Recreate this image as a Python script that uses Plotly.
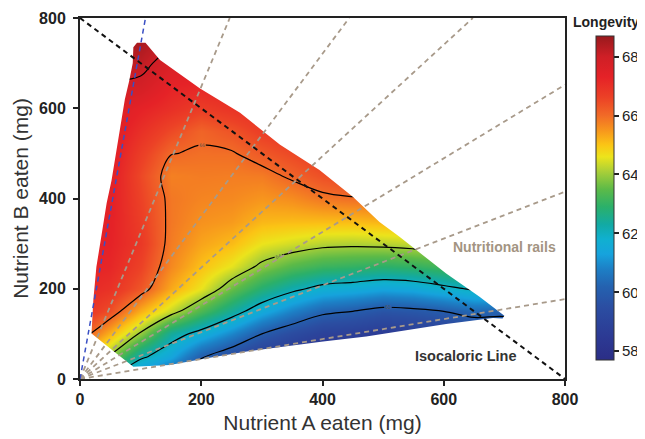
import plotly.graph_objects as go

N = None
# Grid of sampled intakes (mg)
nutrient_a = [0, 50, 100, 150, 200, 250, 300, 350, 400, 450, 500, 550, 600, 650, 700, 750]
nutrient_b = [0, 50, 100, 150, 200, 250, 300, 350, 400, 450, 500, 550, 600, 650, 700, 750]

# Longevity (rows = nutrient B, columns = nutrient A)
longevity = [
    [N, 61.9, 60.6, 59.9, 59.0, 58.6, N, N, N, N, N, N, N, N, N, N],
    [65.0, 63.9, 62.2, 61.4, 60.1, 59.4, 58.7, 58.3, 58.0, 57.9, 57.9, N, N, N, N, N],
    [66.4, 65.2, 63.9, 62.4, 61.7, 60.9, 60.0, 59.4, 58.9, 58.8, 58.6, 58.7, 58.9, 59.2, 59.5, 59.8],
    [67.0, 66.4, 65.2, 64.3, 63.3, 62.4, 61.5, 60.8, 60.2, 60.0, 59.7, 59.8, 60.0, 60.3, 60.15, 60.3],
    [67.2, 66.95, 66.3, 65.3, 64.6, 63.6, 62.8, 62.2, 61.75, 61.6, 61.4, 61.5, 61.8, 62.1, 62.3, N],
    [67.3, 67.2, 66.6, 65.65, 65.05, 64.55, 63.85, 63.4, 63.1, 63.0, 62.9, 63.0, 63.2, 63.4, N, N],
    [67.4, 67.3, 66.8, 65.8, 65.35, 65.1, 64.6, 64.4, 64.2, 64.15, 64.2, 64.3, 64.4, N, N, N],
    [67.5, 67.35, 66.7, 65.85, 65.55, 65.45, 65.15, 65.1, 65.1, 65.1, 65.2, 65.2, N, N, N, N],
    [67.5, 67.4, 66.6, 65.85, 65.7, 65.65, 65.5, 65.6, 65.85, 65.95, 66.0, N, N, N, N, N],
    [67.6, 67.45, 66.5, 65.75, 65.8, 65.78, 65.8, 66.1, 66.4, 66.6, 66.8, N, N, N, N, N],
    [N, 67.5, 66.7, 66.02, 65.94, 65.95, 66.25, 66.5, 66.8, N, N, N, N, N, N, N],
    [N, 67.6, 67.0, 66.5, 66.1, 66.35, 66.7, 66.9, N, N, N, N, N, N, N, N],
    [N, 67.7, 67.3, 67.0, 66.7, 66.9, 67.1, N, N, N, N, N, N, N, N, N],
    [N, 67.95, 67.85, 67.3, 67.2, 67.3, N, N, N, N, N, N, N, N, N, N],
    [N, 68.2, 68.2, 67.7, 67.6, N, N, N, N, N, N, N, N, N, N, N],
    [N, 68.5, 68.5, 68.1, N, N, N, N, N, N, N, N, N, N, N, N],
]

# Outline of the sampled diet region (clockwise)
region_a = [88, 55, 19, 22, 27, 36, 44, 52, 58, 66, 74, 81, 87, 88, 94, 108, 132, 198, 264,
            330, 395, 450, 494, 527, 604, 659, 700, 697, 681, 604, 527, 472, 401, 340, 275,
            209, 148, 88]
region_b = [27, 62, 101, 175, 248, 323, 390, 440, 490, 560, 620, 660, 700, 735, 745, 745, 707,
            644, 590, 519, 463, 404, 348, 315, 234, 182, 140, 134, 135, 122, 105, 94, 83, 72,
            61, 46, 31, 27]

# Nutritional rails (end points of rays from the origin)
rail_end_a = [247, 444, 648, 800, 800, 800]
rail_end_b = [800, 800, 800, 652, 415, 177]
blue_rail_end = (108, 800)
isocaloric_a = [0, 800]
isocaloric_b = [800, 0]

colorbar_ticks = [58, 60, 62, 64, 66, 68]
z_min, z_max = 57.7, 68.7

colorscale = [
    [0.000, "#2b2e86"], [0.073, "#2c3a94"], [0.164, "#2b4ea2"], [0.227, "#2462b0"],
    [0.282, "#1d80c6"], [0.327, "#16a3dd"], [0.373, "#10b0d0"], [0.418, "#12aaa4"],
    [0.473, "#2bb06a"], [0.527, "#5cba48"], [0.582, "#aacf38"], [0.627, "#ece41c"],
    [0.664, "#fbc515"], [0.709, "#f7961d"], [0.755, "#f16a27"], [0.809, "#ec4226"],
    [0.873, "#e52227"], [0.936, "#cf1f26"], [1.000, "#98191d"],
]

FONT = "Liberation Sans, Arial, sans-serif"
# The page body adds an 8px offset, so the figure is drawn 8px smaller.
OFF = 8
FIG_W, FIG_H = 645 - OFF, 439 - OFF
PLOT_L, PLOT_R, PLOT_T, PLOT_B = 80 - OFF, 565 - OFF, 18 - OFF, 379 - OFF
PW, PH = PLOT_R - PLOT_L, PLOT_B - PLOT_T

fig = go.Figure()
fig.add_trace(go.Contour(
    x=nutrient_a, y=nutrient_b, z=longevity, connectgaps=True,
    zauto=False, zmin=z_min, zmax=z_max, colorscale=colorscale, showscale=False,
    contours=dict(start=60, end=68, size=2, coloring="heatmap", showlabels=True,
                  labelfont=dict(size=5, color="#555")),
    line=dict(color="black", width=1.2, smoothing=1),
    hoverinfo="skip",
))

# white mask outside the sampled region
mask_x = [-50, 850, 850, -50, -50] + region_a + [-50]
mask_y = [-50, -50, 850, 850, -50] + region_b + [-50]
fig.add_trace(go.Scatter(x=mask_x, y=mask_y, mode="lines", fill="toself",
                         fillcolor="white", line=dict(width=0), hoverinfo="skip"))

for ea, eb in zip(rail_end_a, rail_end_b):
    fig.add_trace(go.Scatter(x=[0, ea], y=[0, eb], mode="lines", hoverinfo="skip",
                             line=dict(color="#a89a8a", width=1.8, dash="5px,4px")))
fig.add_trace(go.Scatter(x=[0, blue_rail_end[0]], y=[0, blue_rail_end[1]], mode="lines",
                         hoverinfo="skip", line=dict(color="#3a4fc4", width=1.5, dash="5px,4px")))
fig.add_trace(go.Scatter(x=isocaloric_a, y=isocaloric_b, mode="lines", hoverinfo="skip",
                         line=dict(color="#111", width=2, dash="5px,4px")))

# colour bar carrier (no visible points)
fig.add_trace(go.Scatter(
    x=[None], y=[None], mode="markers", hoverinfo="skip",
    marker=dict(color=[z_min], colorscale=colorscale, cmin=z_min, cmax=z_max, showscale=True,
                colorbar=dict(
                    thickness=18, len=324 / PH, lenmode="fraction",
                    x=(596 - OFF - PLOT_L) / PW, xanchor="left", xpad=0,
                    y=(PLOT_B - (36 - OFF)) / PH, yanchor="top", ypad=0,
                    tickvals=colorbar_ticks, ticks="outside", ticklen=5, tickwidth=1.5,
                    tickcolor="#222", tickfont=dict(size=15, family=FONT, color="#222"),
                    outlinewidth=1, outlinecolor="#333",
                )),
))

fig.add_annotation(x=700, y=293, text="Nutritional rails", showarrow=False,
                   font=dict(family=FONT, size=14, color="#a39482", weight="bold"))
fig.add_annotation(x=636, y=51, text="Isocaloric Line", showarrow=False,
                   font=dict(family=FONT, size=14.5, color="#333", weight="bold"))
fig.add_annotation(xref="paper", yref="paper", x=(606 - OFF - PLOT_L) / PW,
                   y=(PLOT_B - (22.5 - OFF)) / PH, xanchor="center", yanchor="middle",
                   text="Longevity", showarrow=False,
                   font=dict(family=FONT, size=14, color="#222", weight="bold"))

axis_common = dict(range=[0, 800], tickvals=[0, 200, 400, 600, 800], ticks="outside",
                   ticklen=5, tickwidth=2, tickcolor="#222", linewidth=2, linecolor="#222",
                   mirror=True, showgrid=False, zeroline=False, automargin=False,
                   tickfont=dict(family=FONT, size=16, color="#222", weight="bold"))
fig.update_layout(
    width=FIG_W, height=FIG_H,
    margin=dict(l=PLOT_L, r=FIG_W - PLOT_R, t=PLOT_T, b=FIG_H - PLOT_B, autoexpand=False),
    plot_bgcolor="white", paper_bgcolor="white", showlegend=False,
    font=dict(family=FONT, color="#222"),
    xaxis=dict(axis_common, title=dict(text="Nutrient A eaten (mg)", standoff=8,
                                       font=dict(family=FONT, size=21, color="#333"))),
    yaxis=dict(axis_common, ticklabelstandoff=4,
               title=dict(text="Nutrient B eaten (mg)", standoff=5,
                          font=dict(family=FONT, size=21, color="#333"))),
)

fig.write_html("out.html")
